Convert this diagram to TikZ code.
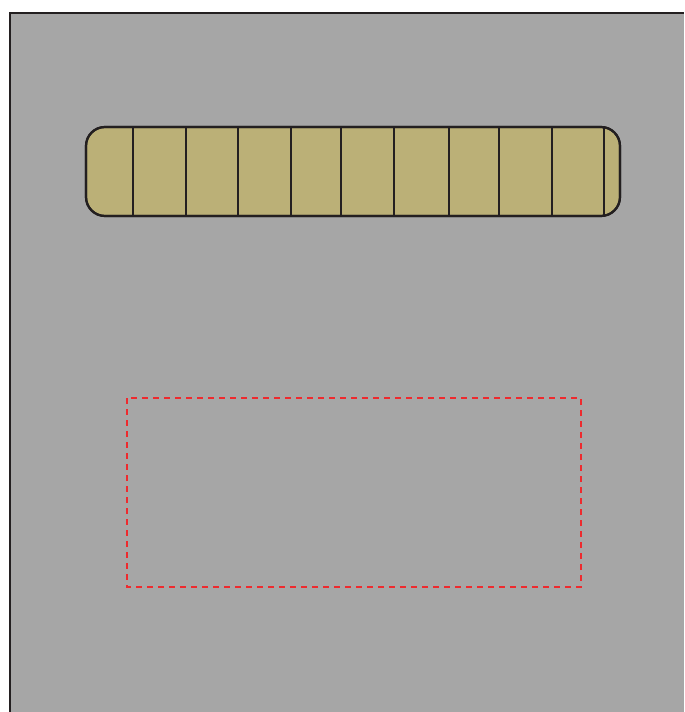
\documentclass[tikz,border=0pt]{standalone}
\begin{document}
\begin{tikzpicture}[x=0.75pt,y=-0.75pt,
  panel/.style={fill=panelgray,draw=none},
  frameline/.style={draw=framedark,line width=1.8pt*0.75},
  barbox/.style={fill=barfill,draw=framedark,line width=2.2pt*0.75,rounded corners=19*0.75pt},
  divider/.style={draw=framedark,line width=2pt*0.75},
  dashbox/.style={draw=dashred,line width=2pt*0.75,dash pattern=on 6*0.75pt off 5*0.75pt}]
\definecolor{panelgray}{HTML}{A6A6A6}
\definecolor{framedark}{HTML}{231F20}
\definecolor{barfill}{HTML}{BBB077}
\definecolor{dashred}{HTML}{EE2A2E}
\useasboundingbox (0,0) rectangle (684,712);
\fill[white] (0,0) rectangle (684,712);
\path[panel] (10,13) rectangle (684,712);
\draw[frameline] (10,712) -- (10,13) -- (684,13);
\path[barbox] (86,127) rectangle (620,216);
\foreach \x in {133.3,185.7,237.7,291,341,393.7,449,499,552.3,604.3}
  \draw[divider] (\x,127) -- (\x,216);
\draw[barbox,fill=none] (86,127) rectangle (620,216);
\draw[dashbox] (127.3,398.3) rectangle (581,587.3);
\end{tikzpicture}
\end{document}
